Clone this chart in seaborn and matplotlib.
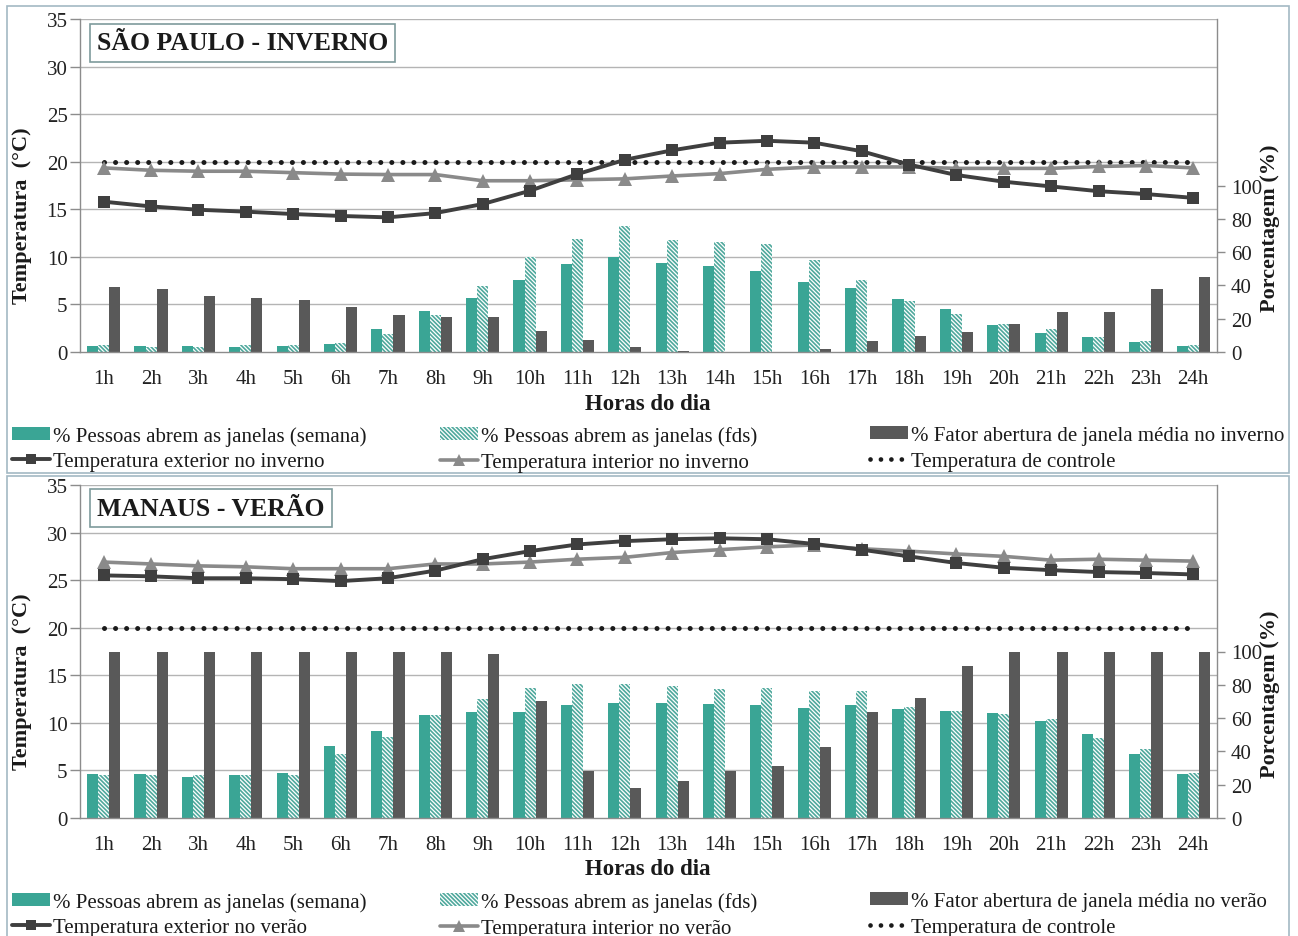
import numpy as np
import pandas as pd
import matplotlib
matplotlib.use("Agg")
import matplotlib.pyplot as plt
from matplotlib.patches import Patch, Rectangle
from matplotlib.lines import Line2D
import seaborn as sns

# ---------------- data ----------------
hours = [f"{h}h" for h in range(1, 25)]

# São Paulo - inverno (percentages on the right axis, temperatures on the left)
sp_semana = [3.6, 3.6, 3.6, 3.0, 3.6, 5.0, 14.0, 24.6, 32.4, 43.0, 53.0, 57.0,
             53.5, 51.8, 48.4, 41.8, 38.4, 32.0, 26.0, 16.0, 11.4, 8.8, 6.2, 3.4]
sp_fds = [4.4, 3.0, 3.0, 4.0, 4.4, 5.6, 11.0, 22.4, 39.6, 57.0, 68.0, 75.4,
          67.3, 66.0, 64.9, 55.4, 43.0, 30.8, 22.8, 16.8, 13.6, 8.8, 6.6, 4.2]
sp_fator = [39.0, 37.6, 33.6, 32.4, 31.0, 27.2, 22.4, 21.0, 21.0, 12.6, 7.4, 2.8,
            0.8, 0.0, 0.0, 2.0, 6.6, 9.4, 12.0, 16.6, 24.0, 24.0, 37.6, 45.0]
sp_t_ext = [15.8, 15.3, 14.95, 14.75, 14.5, 14.3, 14.15, 14.6, 15.55, 16.95, 18.7, 20.2,
            21.2, 22.0, 22.2, 22.0, 21.1, 19.7, 18.6, 17.9, 17.4, 16.9, 16.6, 16.2]
sp_t_int = [19.35, 19.1, 19.0, 19.0, 18.85, 18.7, 18.65, 18.65, 18.0, 18.0, 18.1, 18.2,
            18.5, 18.75, 19.2, 19.45, 19.45, 19.45, 19.3, 19.3, 19.3, 19.5, 19.6, 19.35]

# Manaus - verão
ma_semana = [26.6, 26.6, 24.6, 25.6, 27.2, 43.2, 52.4, 61.6, 63.6, 63.6, 67.6, 69.0,
             69.0, 68.2, 67.6, 66.2, 67.6, 65.6, 64.4, 63.0, 58.4, 50.6, 38.6, 26.6]
ma_fds = [26.0, 26.0, 25.6, 25.6, 26.0, 38.6, 48.4, 62.0, 71.2, 78.2, 80.2, 80.2,
          79.3, 77.6, 78.2, 76.4, 76.4, 66.4, 64.0, 62.4, 59.6, 48.2, 41.2, 27.2]
ma_fator = [100, 100, 100, 100, 100, 100, 100, 100, 98.5, 70.0, 28.0, 18.0,
            22.0, 28.0, 31.2, 42.4, 63.6, 72.0, 91.0, 100, 100, 100, 100, 100]
ma_t_ext = [25.5, 25.4, 25.2, 25.2, 25.1, 24.9, 25.2, 26.0, 27.2, 28.05, 28.75, 29.1,
            29.3, 29.4, 29.3, 28.8, 28.2, 27.5, 26.8, 26.3, 26.05, 25.85, 25.75, 25.6]
ma_t_int = [26.9, 26.7, 26.5, 26.4, 26.2, 26.2, 26.2, 26.7, 26.7, 26.9, 27.2, 27.4,
            27.9, 28.2, 28.5, 28.7, 28.3, 28.05, 27.75, 27.5, 27.1, 27.2, 27.1, 27.0]

t_controle = 20.0

temp_ticks = [0, 5, 10, 15, 20, 25, 30, 35]
pct_ticks = [0, 20, 40, 60, 80, 100]

# ---------------- style ----------------
TEAL = "#3AA595"
TEAL_H = "#4FA89C"
DARK = "#595959"
EXT = "#3F3F3F"
INT = "#8A8A8A"
GRID = "#B4B4B4"
SPINE = "#8C8C8C"
FRAME = "#A3B9C4"
HATCH = "\\" * 8
DOTS = (0, (0.01, 2.2))

sns.set_theme(style="white")
plt.rcParams["font.family"] = ["Liberation Serif", "DejaVu Serif"]
plt.rcParams["hatch.linewidth"] = 1.2

W, H = 1298, 937
fig = plt.figure(figsize=(W / 100, H / 100), dpi=100)

T_MAX, P_MAX = 35, 200


def fx(px):
    return px / W


def fy(py):
    return 1 - py / H


def draw_panel(y_top, y_zero, semana, fds, fator, t_ext, t_int, title, title_y, labels):
    ax = fig.add_axes([fx(80), fy(y_zero), fx(1217) - fx(80), (y_zero - y_top) / H])
    df = pd.DataFrame({
        "hora": hours * 3,
        "valor": semana + fds + fator,
        "serie": ["semana"] * 24 + ["fds"] * 24 + ["fator"] * 24,
    })
    # gridlines at every 5 °C of the left scale, drawn behind the bars
    for t in temp_ticks[1:]:
        ax.axhline(t * P_MAX / T_MAX, color=GRID, lw=1.0, zorder=0)
    sns.barplot(data=df, x="hora", y="valor", hue="serie",
                palette=[TEAL, "white", DARK], width=0.7, saturation=1,
                linewidth=0, ax=ax, legend=False, zorder=2)
    for bar in ax.containers[1]:
        bar.set_hatch(HATCH)
        bar.set_edgecolor(TEAL_H)
        bar.set_linewidth(0)
    ax.set_ylim(0, P_MAX)
    ax.set_xlim(-0.5, 23.5)
    ax.set_xlabel("")
    ax.set_ylabel("")

    axt = ax.twinx()
    x = np.arange(24)
    sns.lineplot(x=x, y=[t_controle] * 24, ax=axt, color="#1A1A1A", lw=3.6,
                 linestyle=DOTS, dash_capstyle="round")
    sns.lineplot(x=x, y=t_int, ax=axt, color=INT, lw=2.6, marker="^",
                 markersize=9.5, markeredgewidth=0)
    sns.lineplot(x=x, y=t_ext, ax=axt, color=EXT, lw=2.8, marker="s",
                 markersize=8.5, markeredgewidth=0)
    axt.set_ylim(0, T_MAX)
    axt.set_xlim(-0.5, 23.5)
    axt.set_ylabel("")

    # axes: temperature on the left, percentage on the right
    ax.yaxis.tick_right()
    axt.yaxis.tick_left()
    axt.set_yticks(temp_ticks)
    axt.set_yticklabels([str(t) for t in temp_ticks], fontsize=15, color="#222222")
    ax.set_yticks(pct_ticks)
    ax.set_yticklabels([str(p) for p in pct_ticks], fontsize=15, color="#222222")
    axt.tick_params(axis="y", which="major", length=7, width=1, color=SPINE,
                    direction="out", pad=2)
    ax.tick_params(axis="y", which="major", length=6, width=1, color=SPINE,
                   direction="out", pad=4)

    ax.set_xticks(range(24))
    ax.set_xticklabels(hours, fontsize=15, color="#222222")
    ax.set_xticks(np.arange(-0.5, 24, 1), minor=True)
    ax.tick_params(axis="x", which="major", length=0, pad=12)
    ax.tick_params(axis="x", which="minor", length=6, width=1, color=SPINE,
                   direction="out")

    for sp in axt.spines.values():
        sp.set_visible(False)
    for name, sp in ax.spines.items():
        if name == "top":
            sp.set_visible(False)
        else:
            sp.set_visible(True)
            sp.set_color(SPINE)
            sp.set_linewidth(1)
    ax.set_facecolor("white")

    # panel title box
    fig.text(fx(97), fy(title_y), title, fontsize=18.5, fontweight="bold",
             color="#1A1A1A", ha="left", va="center",
             bbox=dict(boxstyle="square,pad=0.28", fc="white", ec="#7E9B9C", lw=1.2))

    # axis titles
    off = y_zero - 353
    fig.text(fx(22), fy(216 + off), "Temperatura  (°C)", rotation=90, fontsize=16,
             fontweight="bold", color="#1A1A1A", ha="center", va="center")
    fig.text(fx(1270), fy(228 + off), "Porcentagem (%)", rotation=90, fontsize=16,
             fontweight="bold", color="#1A1A1A", ha="center", va="center")
    fig.text(fx(648), fy(404 + off), "Horas do dia", fontsize=16.5,
             fontweight="bold", color="#1A1A1A", ha="center", va="center")

    # legend, three columns of two rows
    h_sem = Patch(facecolor=TEAL, edgecolor="none")
    h_fds = Patch(facecolor="white", edgecolor=TEAL_H, hatch=HATCH, lw=0)
    h_fat = Patch(facecolor=DARK, edgecolor="none")
    h_ext = Line2D([], [], color=EXT, lw=2.8, marker="s", markersize=7, markeredgewidth=0)
    h_int = Line2D([], [], color=INT, lw=2.6, marker="^", markersize=8, markeredgewidth=0)
    h_ctl = Line2D([], [], color="#1A1A1A", lw=3.4, linestyle=DOTS,
                   dash_capstyle="round")
    cols = [([h_sem, h_ext], labels[0:2], 12),
            ([h_fds, h_int], labels[2:4], 440),
            ([h_fat, h_ctl], labels[4:6], 870)]
    for hs, ls, xpx in cols:
        leg = fig.legend(hs, ls, loc="upper left",
                         bbox_to_anchor=(fx(xpx), fy(427 + off)),
                         frameon=False, fontsize=15, handlelength=1.8,
                         handleheight=0.6, handletextpad=0.15, borderpad=0,
                         borderaxespad=0, labelspacing=0.32)
        for t in leg.get_texts():
            t.set_color("#1A1A1A")
    return ax, axt


draw_panel(20, 353, sp_semana, sp_fds, sp_fator, sp_t_ext, sp_t_int,
           "SÃO PAULO - INVERNO", 44,
           ["% Pessoas abrem as janelas (semana)", "Temperatura exterior no inverno",
            "% Pessoas abrem as janelas (fds)", "Temperatura interior no inverno",
            "% Fator abertura de janela média no inverno", "Temperatura de controle"])

draw_panel(486, 819, ma_semana, ma_fds, ma_fator, ma_t_ext, ma_t_int,
           "MANAUS - VERÃO", 509,
           ["% Pessoas abrem as janelas (semana)", "Temperatura exterior no verão",
            "% Pessoas abrem as janelas (fds)", "Temperatura interior no verão",
            "% Fator abertura de janela média no verão", "Temperatura de controle"])

# chart-area frames
fig.add_artist(Rectangle((fx(7), fy(474)), fx(1289) - fx(7), (474 - 7) / H,
                         transform=fig.transFigure, fill=False, ec=FRAME, lw=1.2))
fig.add_artist(Rectangle((fx(7), fy(945)), fx(1289) - fx(7), (945 - 477) / H,
                         transform=fig.transFigure, fill=False, ec=FRAME, lw=1.2))

fig.savefig("out.png", dpi=100, facecolor="white")
